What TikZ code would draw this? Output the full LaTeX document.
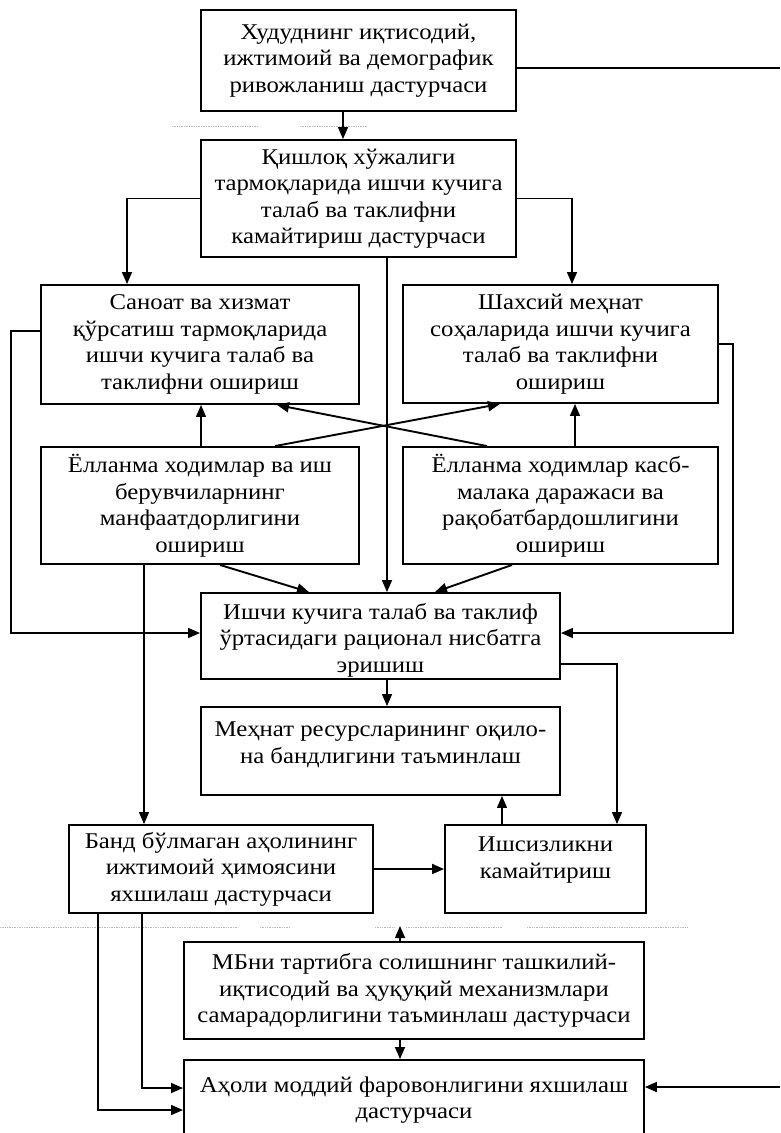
\documentclass[tikz,border=0pt]{standalone}
\usepackage{fontspec}
\setmainfont[FakeStretch=1.1]{Liberation Serif}
\usetikzlibrary{arrows.meta,calc}
\tikzset{
  box/.style={draw, line width=1.9pt, rectangle, inner sep=0pt, align=center,
    font=\fontsize{22.5}{26.5}\selectfont},
  txt/.style={inner sep=0pt, align=center, font=\fontsize{22.5}{26.5}\selectfont},
  conn/.style={line width=1.4pt},
  arr/.style={conn, -{Triangle[length=12pt,width=10pt]}},
  xarr/.style={line width=1.9pt, -{Triangle[length=12pt,width=10pt]}},
  scan/.style={gray!55, line width=0.7pt, densely dotted}
}
\begin{document}
\begin{tikzpicture}[x=1pt,y=-1pt]
\useasboundingbox (0,0) rectangle (780,1133);

% faint rule marks
\draw[scan] (172,126) -- (258,126) (300,126) -- (368,126);
\draw[scan] (0,927) -- (238,927) (260,927) -- (290,927) (375,927) -- (394,927)
  (406,927) -- (502,927) (527,927) -- (687,927);

% boxes
\node[box, minimum width=315pt, minimum height=101pt] (b1) at (358.5,60.5)
  {Худуднинг иқтисодий,\\ижтимоий ва демографик\\ривожланиш дастурчаси};
\node[box, minimum width=315pt, minimum height=117pt] (b2) at (358.5,198.5)
  {Қишлоқ хўжалиги\\тармоқларида ишчи кучига\\талаб ва таклифни\\камайтириш дастурчаси};
\node[box, minimum width=318pt, minimum height=119pt] (b3) at (200,344.5)
  {Саноат ва хизмат\\қўрсатиш тармоқларида\\ишчи кучига талаб ва\\таклифни ошириш};
\node[box, minimum width=315pt, minimum height=118pt] (b4) at (560.5,344)
  {Шахсий меҳнат\\соҳаларида ишчи кучига\\талаб ва таклифни\\ошириш};
\node[box, minimum width=318pt, minimum height=117pt] (b5) at (200,505.5)
  {Ёлланма ходимлар ва иш\\берувчиларнинг\\манфаатдорлигини\\ошириш};
\node[box, minimum width=315pt, minimum height=117pt] (b6) at (560.5,505.5)
  {Ёлланма ходимлар касб-\\малака даражаси ва\\рақобатбардошлигини\\ошириш};
\node[box, minimum width=359pt, minimum height=86pt] (b7) at (380.5,636) {};
\node[txt] (t7) at (380.5,640)
  {Ишчи кучига талаб ва таклиф\\ўртасидаги рационал нисбатга\\эришиш};
\node[box, minimum width=359pt, minimum height=88pt] (b9) at (380.5,751) {};
\node[txt] (t9) at (380.5,745)
  {Меҳнат ресурсларининг оқило-\\на бандлигини таъминлаш};
\node[box, minimum width=304pt, minimum height=88pt] (b8) at (221,869)
  {Банд бўлмаган аҳолининг\\ижтимоий ҳимоясини\\яхшилаш дастурчаси};
\node[box, minimum width=201pt, minimum height=88pt] (b10) at (545.5,869) {};
\node[txt] (t10) at (545.5,860) {Ишсизликни\\камайтириш};
\node[box, minimum width=460pt, minimum height=97pt] (b11) at (414,990.5)
  {МБни тартибга солишнинг ташкилий-\\иқтисодий ва ҳуқуқий механизмлари\\самарадорлигини таъминлаш дастурчаси};
\node[box, minimum width=460pt, minimum height=85pt] (b12) at (414,1102.5) {};
\node[txt] (t12) at (414,1100) {Аҳоли моддий фаровонлигини яхшилаш\\дастурчаси};

% loose ends
\coordinate (e1) at (780,68);
\coordinate (e2) at (780,1087);
\coordinate (up) at (400,926);

% connectors
\draw[conn] ([yshift=-7.5pt]b1.east) -- (e1);
\draw[arr] ([xshift=-15.5pt]b1.south) -- ([xshift=-15.5pt]b2.north);
\draw[arr] (b2.west) -| ([xshift=-73pt]b3.north);
\draw[arr] (b2.east) -| ([xshift=11.5pt]b4.north);
\draw[arr] ([xshift=28.5pt]b2.south) -- ([xshift=28.5pt]b2.south |- b7.north);

\draw[arr] ([xshift=1pt]b5.north) -- ([xshift=1pt]b3.south);
\draw[arr] ([xshift=14.5pt]b6.north) -- ([xshift=14.5pt]b4.south);
\draw[xarr] ([xshift=75pt]b5.north) -- ([xshift=-60.5pt]b4.south);
\draw[xarr] ([xshift=-73.5pt]b6.north) -- ([xshift=77pt]b3.south);

\draw[arr] ([yshift=13.5pt]b3.west) -- ++(-29,0) |- ([yshift=3pt]b7.west);
\draw[arr] (b4.east) -- ++(14,0) |- ([yshift=3pt]b7.east);

\draw[arr] ([xshift=-56pt]b5.south) -- ([xshift=-56pt]b5.south |- b8.north);
\draw[xarr] ([xshift=20pt]b5.south) -- ([xshift=-71.5pt]b7.north);
\draw[xarr] ([xshift=-48.5pt]b6.south) -- ([xshift=54.5pt]b7.north);

\draw[arr] ([xshift=6.5pt]b7.south) -- ([xshift=6.5pt]b9.north);
\draw[arr] ([yshift=-28pt]b7.east) -| ([xshift=71.5pt]b10.north);
\draw[arr] ([xshift=-43.5pt]b10.north) -- ([xshift=-43.5pt]b10.north |- b9.south);
\draw[xarr] (b8.east) -- (b10.west);

\draw[arr] ([xshift=-14pt]b11.north) -- (up);
\draw[arr] ([xshift=-14pt]b11.south) -- ([xshift=-14pt]b12.north);
\draw[arr] ([xshift=-123pt]b8.south) |- ([yshift=-7.5pt]b12.west);
\draw[arr] ([xshift=-79pt]b8.south) |- ([yshift=14.5pt]b12.west);
\draw[xarr] (e2) -- ([yshift=15.5pt]b12.east);
\end{tikzpicture}
\end{document}
